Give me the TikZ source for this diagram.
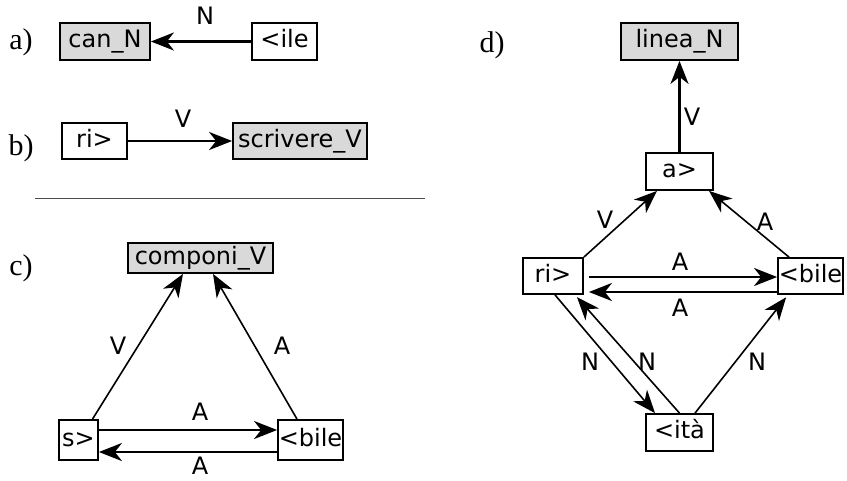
\documentclass[tikz,border=0pt]{standalone}
\usepackage{fontspec}
\setmainfont{Liberation Serif}
\newfontfamily\boxfont{DejaVu Sans}
\usetikzlibrary{arrows.meta}
\begin{document}
\begin{tikzpicture}[x=1pt,y=-1pt,
 box/.style={draw,line width=1.8pt,inner sep=0pt,font=\boxfont\fontsize{24}{24}\selectfont,text height=17pt,text depth=5pt,anchor=center},
 lex/.style={box,fill=gray!30},
 edge/.style={line width=2.4pt,-{Stealth[length=23pt,width=18pt,inset=7pt]}},
 dedge/.style={edge,line width=1.6pt},
 lbl/.style={font=\boxfont\fontsize{24}{24}\selectfont,inner sep=0pt,anchor=center},
 part/.style={font=\fontsize{30}{30}\selectfont,inner sep=0pt,anchor=center}]
\useasboundingbox (0,0) rectangle (847,480);
% part labels
\node[part] (pa) at (21,42) {a)};
\node[part] (pb) at (21,148) {b)};
\node[part] (pc) at (21,268) {c)};
\node[part] (pd) at (492,45) {d)};
% divider
\coordinate (dl) at (35,198);
\coordinate (dr) at (425,198);
\draw[line width=0.9pt,gray!60!black] (dl) -- (dr);
% a)
\node[lex,minimum width=90pt,minimum height=37pt] (canN) at (105,41.5) {can\_N};
\node[box,minimum width=65pt,minimum height=37pt] (ile) at (284.5,41.5) {<ile};
\draw[edge] (ile) -- (canN);
\node[lbl] (la) at (205,16) {N};
% b)
\node[box,minimum width=65pt,minimum height=36pt] (rib) at (94.5,141) {ri>};
\node[lex,minimum width=134pt,minimum height=36pt] (scr) at (300,141) {scrivere\_V};
\draw[edge] (rib) -- (scr);
\node[lbl] (lb) at (183,119) {V};
% c)
\node[lex,minimum width=145pt,minimum height=30pt] (comp) at (200.5,258) {componi\_V};
\node[box,minimum width=39pt,minimum height=40pt] (s) at (78.5,440) {s>};
\node[box,minimum width=65pt,minimum height=40pt] (bilec) at (310.5,440) {<bile};
\draw[dedge] ([xshift=14pt]s.north) -- ([xshift=-17.5pt]comp.south);
\draw[dedge] ([xshift=-13.5pt]bilec.north) -- ([xshift=12.5pt]comp.south);
\draw[edge] ([yshift=10pt]s.east) -- ([yshift=10pt]bilec.west);
\draw[edge] ([yshift=-12pt]bilec.west) -- ([yshift=-12pt]s.east);
\node[lbl] (lc1) at (118,346) {V};
\node[lbl] (lc2) at (282,346) {A};
\node[lbl] (lc3) at (200,412) {A};
\node[lbl] (lc4) at (200,466) {A};
% d)
\node[lex,minimum width=117pt,minimum height=37pt] (linea) at (679.5,41.5) {linea\_N};
\node[box,minimum width=67pt,minimum height=37pt] (a) at (679.5,171.5) {a>};
\node[box,minimum width=60pt,minimum height=36pt] (rid) at (553,276) {ri>};
\node[box,minimum width=65pt,minimum height=36pt] (biled) at (810.5,276) {<bile};
\node[box,minimum width=67pt,minimum height=37pt] (ita) at (679.5,432.5) {<ità};
\draw[edge] (a.north) -- (linea.south);
\draw[dedge] (rid.north east) -- ([xshift=-22.5pt]a.south);
\draw[dedge] ([xshift=-21.5pt]biled.north) -- ([xshift=29.5pt]a.south);
\draw[edge,shorten <=5pt] ([yshift=-1pt]rid.east) -- ([yshift=-1pt]biled.west);
\draw[edge,shorten >=5pt] ([yshift=-16pt]biled.west) -- ([yshift=-16pt]rid.east);
\draw[dedge] ([xshift=2pt]rid.south) -- ([xshift=-24.5pt]ita.north);
\draw[dedge,shorten >=3pt] (ita.north) -- ([xshift=22pt]rid.south);
\draw[dedge,shorten >=3pt] ([xshift=15.5pt]ita.north) -- ([xshift=-22.5pt]biled.south);
\node[lbl] (ld1) at (692,117) {V};
\node[lbl] (ld2) at (605,220) {V};
\node[lbl] (ld3) at (765,222) {A};
\node[lbl] (ld4) at (680,262) {A};
\node[lbl] (ld5) at (680,308) {A};
\node[lbl] (ld6) at (590,362) {N};
\node[lbl] (ld7) at (647,362) {N};
\node[lbl] (ld8) at (757,362) {N};
\end{tikzpicture}
\end{document}
